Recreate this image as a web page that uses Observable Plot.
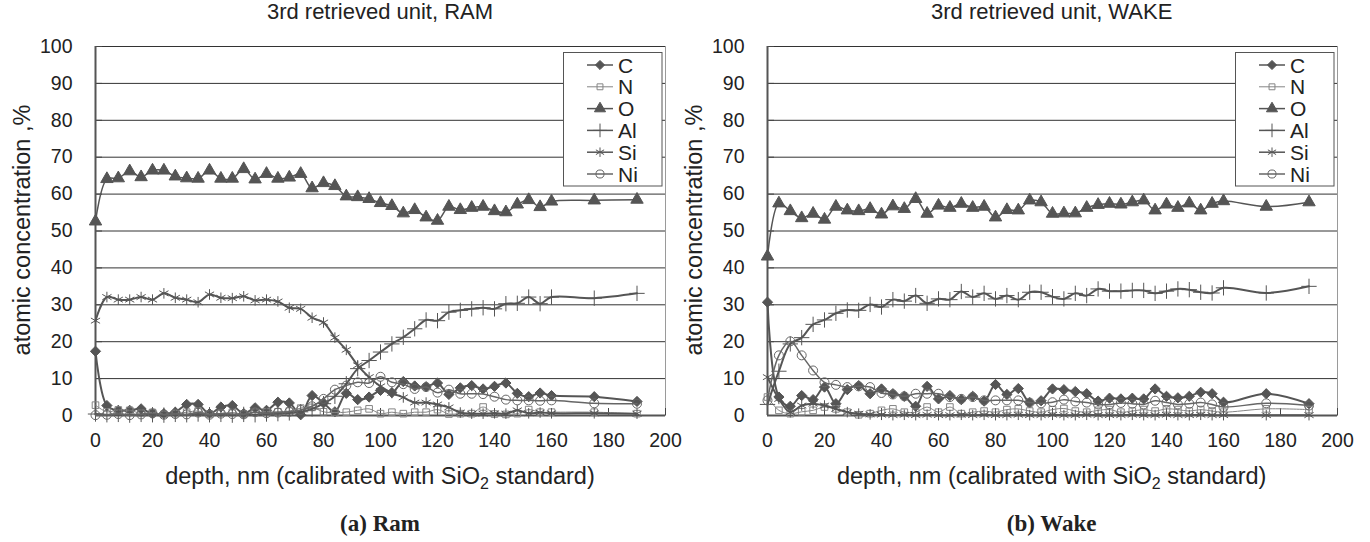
<!DOCTYPE html>
<html><head><meta charset="utf-8">
<script src="https://cdn.jsdelivr.net/npm/d3@7"></script>
<script src="https://cdn.jsdelivr.net/npm/@observablehq/plot@0.6"></script>
<style>
body{margin:0;background:#fff;width:1370px;height:542px;position:relative;overflow:hidden;font-family:"Liberation Sans",Arial,sans-serif;color:#222;}
.panel{position:absolute;top:0;width:685px;height:542px;}
.panel svg.plotsvg{position:absolute;top:0;left:0;}
.title{position:absolute;top:0px;left:95px;width:570px;text-align:center;font-size:22px;line-height:24px;}
.ylab{position:absolute;left:22px;top:230px;transform:translate(-50%,-50%) rotate(-90deg);white-space:nowrap;font-size:23.5px;line-height:26px;}
.xlab{position:absolute;top:463px;left:95px;width:570px;text-align:center;font-size:23.5px;line-height:26px;}
.xlab sub{font-size:16px;vertical-align:-5px;line-height:0;}
.cap{position:absolute;top:511px;left:95px;width:570px;text-align:center;font-family:"Liberation Serif","Times New Roman",serif;font-weight:bold;font-size:23px;line-height:26px;}
.legend{position:absolute;left:563px;top:52px;}
</style>
</head><body>
<script>
// ---- data ----
const depth = [0,4,8,12,16,20,24,28,32,36,40,44,48,52,56,60,64,68,72,76,80,84,88,92,96,100,104,108,112,116,120,124,128,132,136,140,144,148,152,156,160,175,190];
const elements = ["C","N","O","Al","Si","Ni"];
const xTicks = [0,20,40,60,80,100,120,140,160,180,200];
const yTicks = [0,10,20,30,40,50,60,70,80,90,100];

// Panel (a) Ram
const ramC  = [17.4,2.7,1.4,1.4,1.8,0.5,0.5,0.9,3.0,3.0,0.5,2.3,2.7,0.5,2.1,1.4,3.6,3.4,0.2,5.4,3.4,1.0,6.0,4.3,5.0,6.8,6.2,9.2,8.0,7.8,8.8,5.7,7.5,8.1,7.2,7.9,8.8,6.0,5.1,6.1,5.4,5.1,3.8];
const ramN  = [2.8,1.0,1.5,1.4,0.6,0.8,0.3,0.5,0.9,1.2,0.4,0.6,0.8,0.4,0.9,1.0,1.0,1.2,2.0,2.2,1.0,0.8,0.9,1.4,1.8,0.5,0.9,0.5,0.9,0.9,1.6,0.4,0.5,0.5,2.3,0.4,0.3,0.5,1.6,0.9,0.9,0.9,0.5];
const ramO  = [52.6,64.1,64.3,66.2,64.6,66.4,66.4,64.8,64.3,64.2,66.4,64.2,64.2,66.8,64.0,65.5,64.2,64.5,65.5,61.6,63.0,62.2,59.4,59.2,58.7,57.6,56.8,54.8,55.7,53.7,52.8,56.6,55.7,56.3,56.6,55.4,55.1,57.2,58.4,56.5,58.0,58.3,58.5];
const ramAl = [0.4,0.2,0.3,0.1,0.3,0.2,0.1,0.3,0.2,0.4,0.2,0.3,0.1,0.3,0.2,0.4,0.5,0.7,1.0,1.8,3.2,5.2,8.6,12.7,14.9,17.2,19.4,21.2,23.5,25.9,25.7,28.0,28.5,28.9,29.2,28.9,30.3,30.4,32.1,30.3,32.1,31.8,33.1];
const ramSi = [25.7,32.1,31.4,31.4,32.1,31.4,33.1,31.9,31.4,30.7,32.8,31.9,31.8,32.3,31.2,31.4,30.9,29.2,28.9,26.5,25.2,21.1,17.8,13.6,10.4,7.9,6.1,4.9,3.5,3.5,3.0,2.2,0.8,0.5,0.5,0.6,0.5,1.4,0.6,0.8,0.6,0.6,0.5];
const ramNi = [0.1,0.2,0.4,0.1,0.3,0.6,0.2,0.4,0.3,0.8,0.2,0.5,0.4,0.3,0.9,0.6,0.8,1.0,1.5,2.5,4.5,7.0,8.1,9.0,8.8,10.5,9.0,8.5,7.2,7.7,6.2,7.0,5.9,5.9,5.8,5.1,4.3,4.1,4.1,4.0,4.1,3.3,3.2];

// Panel (b) Wake
const wakeC  = [30.7,5.0,2.5,5.4,4.3,7.7,3.2,7.0,8.1,5.9,7.2,5.9,5.2,2.5,7.9,4.5,5.4,4.3,5.2,3.9,8.4,5.7,7.3,3.5,4.0,7.2,7.0,6.5,5.9,3.9,4.7,4.5,4.7,4.5,7.2,5.2,4.8,5.2,6.3,5.9,3.6,5.9,3.2];
const wakeN  = [5.0,1.4,0.5,1.0,1.4,2.3,1.8,0.9,0.2,0.5,1.4,1.8,0.9,0.9,2.3,0.9,2.3,0.5,0.9,1.2,0.9,1.6,1.8,1.2,0.9,1.6,1.9,1.2,0.9,1.4,1.6,0.9,1.2,1.6,1.2,1.8,1.6,1.2,1.6,1.2,0.9,1.8,1.6];
const wakeO  = [43.1,57.5,55.4,53.5,54.7,53.1,56.6,55.6,55.4,56.0,54.5,56.7,56.0,58.7,54.7,56.9,56.3,57.4,56.3,56.6,53.7,55.7,55.6,58.3,57.8,54.7,54.8,54.8,56.3,57.1,57.4,57.2,57.8,58.3,55.6,57.2,56.3,57.5,55.6,57.4,58.1,56.6,57.8];
const wakeAl = [3.0,12.0,19.4,21.1,24.7,25.9,27.7,28.6,28.5,30.1,29.4,31.4,31.0,32.5,30.4,31.6,31.4,33.6,32.1,33.1,31.6,32.5,31.4,33.4,33.4,32.2,31.6,33.1,32.5,34.3,33.7,33.7,33.9,33.9,33.1,33.7,34.3,34.1,33.4,33.2,34.6,33.2,35.0];
const wakeSi = [10.4,4.5,0.9,2.7,3.2,2.7,1.8,0.9,0.5,0.3,0.2,0.1,0.2,0.1,0.2,0.1,0.1,0.2,0.1,0.2,0.1,0.1,0.2,0.1,0.1,0.2,0.1,0.1,0.2,0.1,0.1,0.1,0.2,0.1,0.1,0.2,0.1,0.1,0.2,0.1,0.1,0.1,0.1];
const wakeNi = [4.1,16.3,20.1,16.3,12.2,9.0,8.3,7.7,7.9,7.7,6.1,5.7,5.2,5.9,5.9,5.9,5.0,4.5,5.0,4.1,4.1,4.1,4.1,3.5,3.3,3.6,4.3,3.8,3.5,3.0,3.0,3.4,3.2,3.0,4.0,3.5,3.0,3.2,3.5,3.0,2.3,3.3,2.7];

// ---- styles ----
const styles = {
  C:  {symbol:"diamond2", fill:"#555", stroke:"#555", lw:2,   r:4.6, mw:1},
  N:  {symbol:"square2",  fill:"none", stroke:"#858585", lw:1, r:4.2, mw:1},
  O:  {symbol:"triangle", fill:"#555", stroke:"#555", lw:1.5, r:4.6, mw:1},
  Al: {symbol:"plus",     fill:"none", stroke:"#555", lw:2,   r:5,   mw:1},
  Si: {symbol:"asterisk", fill:"none", stroke:"#555", lw:2,   r:5,   mw:1},
  Ni: {symbol:"circle",   fill:"none", stroke:"#666", lw:1.5, r:4.5, mw:1}
};
const symMap = {diamond2:d3.symbolDiamond2, square2:d3.symbolSquare2, triangle:d3.symbolTriangle, plus:d3.symbolPlus, asterisk:d3.symbolAsterisk, circle:d3.symbolCircle};

function rowsOf(series) {
  const rows = [];
  elements.forEach((el, k) => series[k].forEach((v, i) => rows.push({el, depth: depth[i], value: v})));
  return rows;
}

function makePanel(left, series, title, caption) {
  const div = document.createElement("div");
  div.className = "panel";
  div.style.left = left + "px";
  document.body.appendChild(div);
  const rows = rowsOf(series);
  const marks = [
    Plot.frame({stroke:"#9a9a9a"}),
    Plot.ruleY(yTicks.filter(d => d > 0), {stroke:"#333", strokeWidth:1}),
    Plot.ruleX(xTicks, {stroke:"#444", insetTop:362}),
    Plot.ruleY(yTicks, {stroke:"#444", insetRight:563}),
    Plot.ruleX([0], {stroke:"#555", strokeWidth:2}),
    Plot.ruleY([0], {stroke:"#555", strokeWidth:2})
  ];
  for (const el of elements) {
    const s = styles[el];
    const d = rows.filter(r => r.el === el);
    marks.push(Plot.line(d, {x:"depth", y:"value", stroke:s.stroke, strokeWidth:s.lw, curve:"catmull-rom"}));
    marks.push(Plot.dot(d, {x:"depth", y:"value", symbol:s.symbol, r:s.r, fill:s.fill, stroke:s.stroke, strokeWidth:s.mw}));
  }
  const svg = Plot.plot({
    width:685, height:450,
    marginTop:46, marginBottom:35, marginLeft:95, marginRight:20,
    style:{background:"transparent", fontFamily:"'Liberation Sans', Arial, sans-serif", fontSize:"19.5px", color:"#222"},
    x:{domain:[0,200], ticks:xTicks, tickSize:0, tickPadding:18, label:null},
    y:{domain:[0,100], ticks:yTicks, tickSize:0, tickPadding:23, label:null},
    marks
  });
  svg.classList.add("plotsvg");
  div.appendChild(svg);

  const t = document.createElement("div"); t.className = "title"; t.textContent = title; div.appendChild(t);
  const yl = document.createElement("div"); yl.className = "ylab"; yl.textContent = "atomic concentration ,%"; div.appendChild(yl);
  const xl = document.createElement("div"); xl.className = "xlab"; xl.innerHTML = "depth, nm (calibrated with SiO<sub>2</sub> standard)"; div.appendChild(xl);
  const c = document.createElement("div"); c.className = "cap"; c.textContent = caption; div.appendChild(c);

  // legend
  const lg = d3.select(div).append("svg").attr("class","legend").attr("width",100).attr("height",135);
  lg.append("rect").attr("x",0.5).attr("y",0.5).attr("width",98.5).attr("height",133.5).attr("fill","#fff").attr("stroke","#555");
  elements.forEach((el, i) => {
    const s = styles[el];
    const y = 13 + i * 21.8;
    const g = lg.append("g").attr("transform", `translate(0,${y})`);
    g.append("line").attr("x1",24).attr("x2",50).attr("y1",0).attr("y2",0).attr("stroke",s.stroke).attr("stroke-width",Math.min(s.lw,1.5));
    g.append("path").attr("transform","translate(37,0)")
      .attr("d", d3.symbol(symMap[s.symbol], Math.PI * s.r * s.r * 0.8)())
      .attr("fill", s.fill).attr("stroke", s.stroke).attr("stroke-width", 1);
    g.append("text").attr("x",55).attr("y",7.5).attr("font-size","21px")
      .attr("font-family","'Liberation Sans', Arial, sans-serif").attr("fill","#222").text(el);
  });
}

makePanel(0, [ramC, ramN, ramO, ramAl, ramSi, ramNi], "3rd retrieved unit, RAM", "(a) Ram");
makePanel(671.7, [wakeC, wakeN, wakeO, wakeAl, wakeSi, wakeNi], "3rd retrieved unit, WAKE", "(b) Wake");
</script>
</body></html>
